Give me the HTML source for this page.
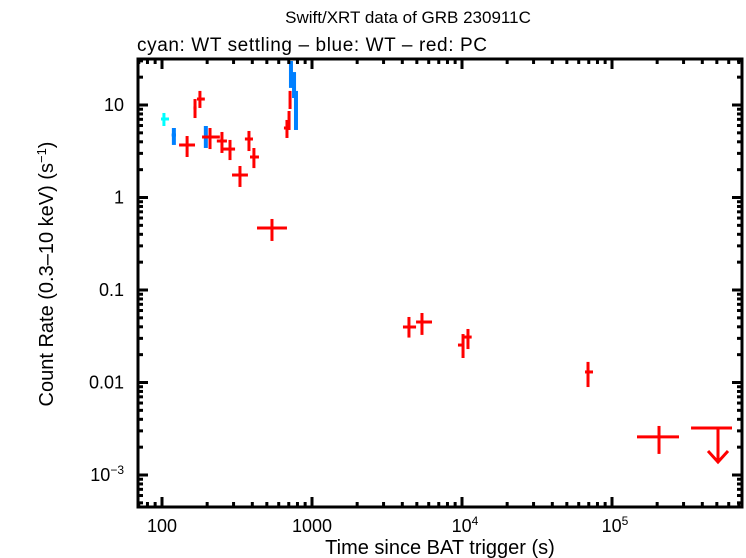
<!DOCTYPE html>
<html><head><meta charset="utf-8"><style>
body{margin:0;background:#fff}
svg{display:block;font-family:"Liberation Sans",sans-serif}
</style></head><body>
<svg id="chart" width="746" height="558" viewBox="0 0 746 558">
<text x="408" y="23" font-size="17" text-anchor="middle">Swift/XRT data of GRB 230911C</text>
<text x="137" y="51" font-size="19" textLength="350">cyan: WT settling – blue: WT – red: PC</text>
<text x="440" y="554" font-size="20" text-anchor="middle">Time since BAT trigger (s)</text>
<text transform="translate(53,274) rotate(-90)" font-size="20" text-anchor="middle">Count Rate (0.3–10 keV) (s<tspan dy="-7" font-size="13">−1</tspan><tspan dy="7">)</tspan></text>
<g id="marks"></g>
<g id="axes"></g>
</svg>
<script>
// WT settling (cyan): time, lo, hi, rate, lo, hi
const cyanT=[103], cyanTlo=[98.5], cyanThi=[111.4], cyanR=[7.06], cyanRlo=[5.93], cyanRhi=[8.2];
// WT (blue)
const blueT=[120,196,724,759,782];
const blueTlo=[116,190,715,750,772];
const blueThi=[124,202,733,768,792];
const blueR=[4.74,4.51,22.2,17.7,8.4];
const blueRlo=[3.70,3.43,15.3,11.9,5.37];
const blueRhi=[5.64,5.93,29.9,22.7,14.2];
// PC (red)
const redT=[166,179,147,209,251,284,380,410,331,541,681,703,714,4430,5410,10160,10960,69200,205800];
const redTlo=[162,171,130,185,232,255,357,386,293,430,650,690,705,4040,4940,9400,10300,66100,146800];
const redThi=[170,193,166,243,271,307,404,443,374,681,714,716,722,4940,6310,10300,11600,74700,279700];
const redR=[9.29,11.6,3.70,4.51,4.08,3.34,4.29,2.74,1.75,0.468,5.64,7.23,11.3,0.0398,0.0451,0.0254,0.0310,0.0130,0.00258];
const redRlo=[7.23,9.29,2.74,3.34,3.03,2.54,3.18,2.08,1.30,0.339,4.40,5.37,9.05,0.0306,0.0327,0.0184,0.0230,0.00893,0.00169];
const redRhi=[11.6,14.2,4.62,5.64,5.11,4.19,5.24,3.43,2.19,0.586,6.89,8.61,14.2,0.0511,0.0564,0.0334,0.0379,0.0167,0.00339];
// upper limit
const ulT=[509000], ulTlo=[336500], ulThi=[631000], ulR=[0.00322];
const xTicks=[100,1000,10000,100000];
const xTickLabels=["100","1000","10^4","10^5"];
const yTicks=[10,1,0.1,0.01,0.001];
const yTickLabels=["10","1","0.1","0.01","10^-3"];

const L=138,R=742,T=59,B=507;
function X(t){return 162+150*(Math.log10(t)-2);}
function Y(v){return 105+92.5*(1-Math.log10(v));}
const NS="http://www.w3.org/2000/svg";
const marks=document.getElementById('marks'), axes=document.getElementById('axes');
function line(p,x1,y1,x2,y2,c,w){const l=document.createElementNS(NS,'line');
l.setAttribute('x1',x1);l.setAttribute('y1',y1);l.setAttribute('x2',x2);l.setAttribute('y2',y2);
l.setAttribute('stroke',c);l.setAttribute('stroke-width',w);p.appendChild(l);return l;}
function series(name,c,w,t,tlo,thi,r,rlo,rhi){
 for(let i=0;i<t.length;i++){
  const g=document.createElementNS(NS,'g');
  
  
  line(g,X(tlo[i]),Y(r[i]),X(thi[i]),Y(r[i]),c,3);
  line(g,X(t[i]),Y(rlo[i]),X(t[i]),Y(rhi[i]),c,w);
  marks.appendChild(g);
 }
}
series('wt-settling','#00ffff',3,cyanT,cyanTlo,cyanThi,cyanR,cyanRlo,cyanRhi);
series('wt','#0080ff',4,blueT,blueTlo,blueThi,blueR,blueRlo,blueRhi);
series('pc','#ff0000',3,redT,redTlo,redThi,redR,redRlo,redRhi);
for(let i=0;i<ulT.length;i++){
 const g=document.createElementNS(NS,'g');
 
 
 const y=Y(ulR[i]),x=X(ulT[i]);
 line(g,X(ulTlo[i]),y,X(ulThi[i]),y,'#ff0000',3);
 line(g,x,y,x,y+34,'#ff0000',3);
 const p=document.createElementNS(NS,'polyline');
 p.setAttribute('points',`${x-10},${y+23} ${x},${y+34} ${x+10},${y+23}`);
 p.setAttribute('fill','none');p.setAttribute('stroke','#ff0000');p.setAttribute('stroke-width',3);
 g.appendChild(p);marks.appendChild(g);
}
// frame
const fr=document.createElementNS(NS,'rect');
fr.setAttribute('x',L);fr.setAttribute('y',T);fr.setAttribute('width',R-L);fr.setAttribute('height',B-T);
fr.setAttribute('fill','none');fr.setAttribute('stroke','#000');fr.setAttribute('stroke-width',3);


axes.appendChild(fr);
// ticks
for(let d=1;d<=5;d++)for(let m=1;m<10;m++){const t=m*Math.pow(10,d);const x=X(t);if(x<L||x>R)continue;
 const len=m==1?10:5;line(axes,x,B,x,B-len,'#000',3);line(axes,x,T,x,T+len,'#000',3);}
for(let e=-4;e<=1;e++)for(let m=1;m<10;m++){const v=m*Math.pow(10,e);const y=Y(v);if(y<T||y>B)continue;
 const len=m==1?10:5;line(axes,L,y,L+len,y,'#000',3);line(axes,R,y,R-len,y,'#000',3);}
function lbl(s,x,y,anchor,name){const t=document.createElementNS(NS,'text');
 t.setAttribute('x',x);t.setAttribute('y',y);t.setAttribute('font-size',18);t.setAttribute('text-anchor',anchor);
 
 
 if(s.includes('^')){const [b,ex]=s.split('^');t.textContent=b;const sp=document.createElementNS(NS,'tspan');
  sp.setAttribute('dy',-7);sp.setAttribute('font-size',12);sp.textContent=ex.replace('-','−');t.appendChild(sp);}
 else t.textContent=s;axes.appendChild(t);}
xTicks.forEach((t,i)=>lbl(xTickLabels[i],X(t)+(i>=2?3:0),532,'middle','x-tick-label'));
yTicks.forEach((v,i)=>lbl(yTickLabels[i],124,Y(v)+6,'end','y-tick-label'));
</script>
</body></html>
